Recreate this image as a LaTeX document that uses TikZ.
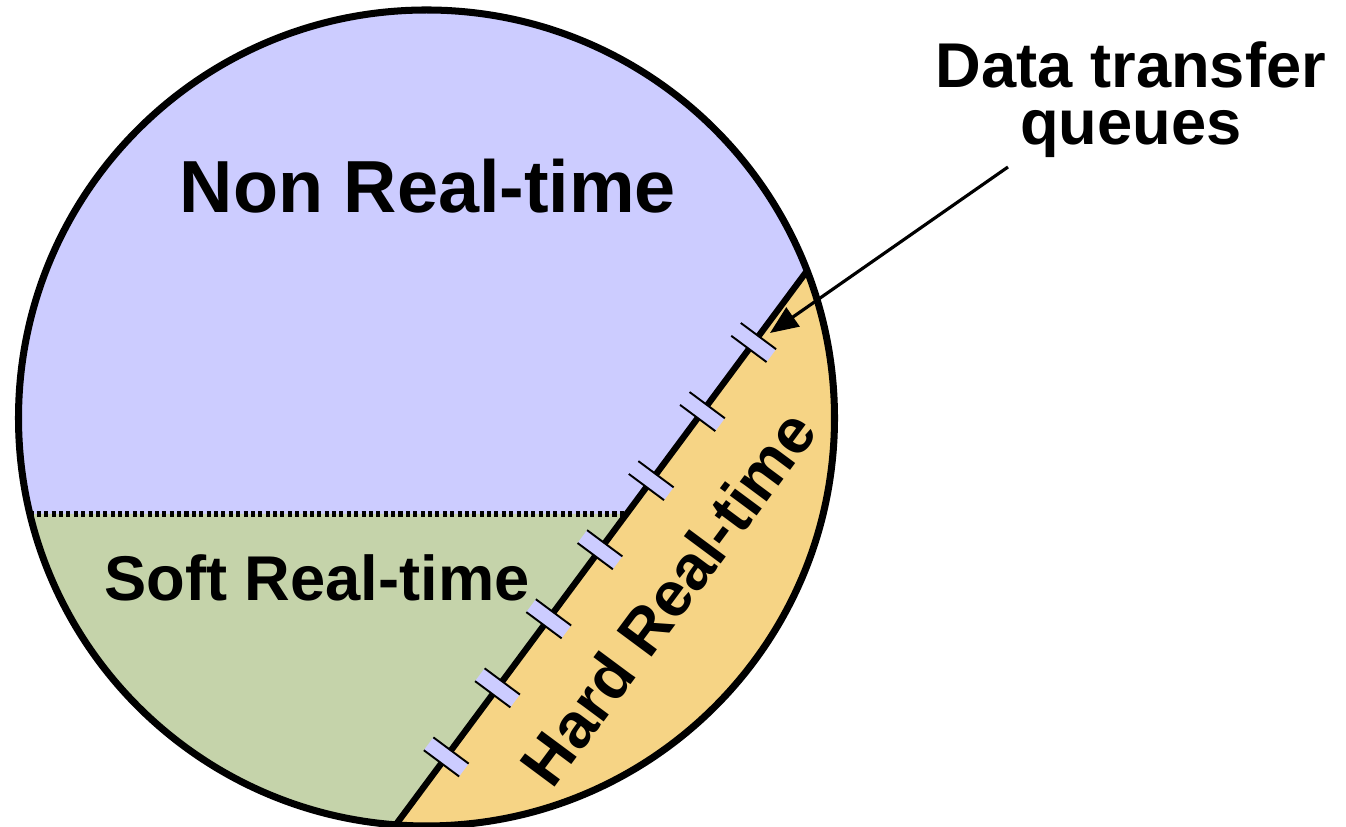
\documentclass[tikz,border=0pt]{standalone}
\usepackage{fontspec}
\setmainfont{Liberation Sans}
\usetikzlibrary{arrows.meta,calc}

\definecolor{nrtblue}{RGB}{204,204,255}
\definecolor{srtgreen}{RGB}{197,211,170}
\definecolor{hrtorange}{RGB}{246,212,133}

\begin{document}
\begin{tikzpicture}[x=0.02cm, y=0.02cm,
    big label/.style={font=\bfseries\fontsize{42}{50}\selectfont, inner sep=0pt, anchor=base},
    zone label/.style={font=\bfseries\fontsize{36}{32.5}\selectfont, inner sep=0pt, anchor=base},
    queue mark/.style={fill=nrtblue},
    queue edge/.style={line width=1.1pt}]

    \useasboundingbox (0,0) rectangle (1346,827);

    \coordinate (C) at (426.5,409);
    \coordinate (dbot) at (357,-50);
    \coordinate (dtop) at (847,610);
    \coordinate (dmid) at (626.5,313);
    \coordinate (dleft) at (0,313);

    % the three zones
    \begin{scope}
      \clip (C) circle (408);
      \fill[nrtblue] (C) circle (420);
      \fill[srtgreen] (dleft) -- (dmid) -- (dbot) -- (0,-50) -- cycle;
      \fill[hrtorange] (dbot) -- (dtop) -- (900,900) -- (900,-50) -- cycle;
      \draw[line width=3.8pt, dash pattern=on 2.3pt off 1.9pt] (dleft) -- (dmid);
      \draw[line width=3.6pt] (dbot) -- (dtop);
    \end{scope}

    % queues on the border
    \foreach \k in {0,...,6} {
      \begin{scope}[shift={($(398,5)!{(81+86*\k)/684.8}!(806,555)$)}, rotate=53.4]
        \fill[queue mark] (-8,-22) rectangle (8,22);
        \draw[queue edge] (-8,-22) -- (-8,22) (8,-22) -- (8,22);
      \end{scope}
    }

    \draw[line width=4pt] (C) circle (408);

    \node[big label] (nonrt) at (428,614) {Non Real-time};
    \node[zone label] (softrt) at (317,226) {Soft Real-time};
    \node[zone label, rotate=53.4] (hardrt) at (686,216) {Hard Real-time};

    \node[zone label, align=center] (dtq) at (1131,682) {Data transfer\\queues};
    \coordinate (qtail) at (1008,660);
    \coordinate (qtip) at (770,494);
    \draw[line width=1.8pt, -{Triangle[length=16pt,width=13pt]}] (qtail) -- (qtip);
\end{tikzpicture}
\end{document}
